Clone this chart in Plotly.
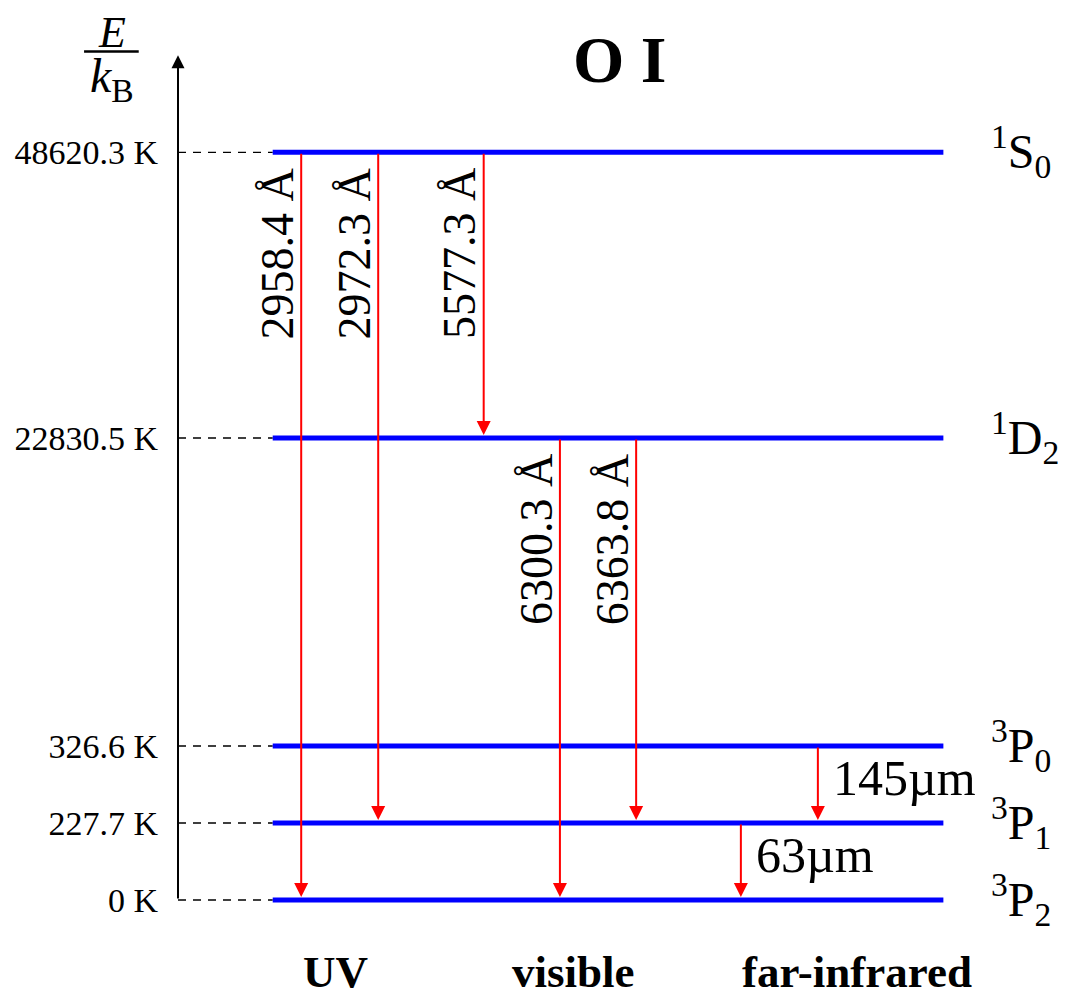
import plotly.graph_objects as go

# ---- data ----
level_names = ["3P2", "3P1", "3P0", "1D2", "1S0"]
level_labels = ["<sup>3</sup>P<sub>2</sub>", "<sup>3</sup>P<sub>1</sub>", "<sup>3</sup>P<sub>0</sub>",
                "<sup>1</sup>D<sub>2</sub>", "<sup>1</sup>S<sub>0</sub>"]
level_energy_labels = ["0 K", "227.7 K", "326.6 K", "22830.5 K", "48620.3 K"]
level_display = [0.0, 1.0, 2.0, 6.0, 9.71]   # schematic (non-linear) heights

trans_upper = ["1S0", "1S0", "1S0", "1D2", "1D2", "3P1", "3P0"]
trans_lower = ["3P2", "3P1", "1D2", "3P2", "3P1", "3P2", "3P1"]
trans_x = [1.6, 2.6, 3.97, 4.96, 5.95, 7.31, 8.31]
trans_labels = ["2958.4 Å", "2972.3 Å", "5577.3 Å", "6300.3 Å", "6363.8 Å", "63µm", "145µm"]

band_labels = ["UV", "visible", "far-infrared"]
band_x = [2.05, 5.13, 8.82]

level_x0, level_x1 = 1.23, 9.94
SERIF = "Liberation Serif"
PX = 77.0  # pixels per unit (both axes)

pos = dict(zip(level_names, level_display))

fig = go.Figure()

# dashed guide lines from axis to levels
for y in level_display:
    fig.add_trace(go.Scatter(x=[0, level_x0], y=[y, y], mode="lines",
                             line=dict(color="black", width=1.3, dash="8px,7px"),
                             hoverinfo="skip", showlegend=False))
# levels
for y in level_display:
    fig.add_trace(go.Scatter(x=[level_x0, level_x1], y=[y, y], mode="lines",
                             line=dict(color="#0000ff", width=5),
                             hoverinfo="skip", showlegend=False))

ann = []
# vertical energy axis with arrow
ann.append(dict(x=0, y=10.97, ax=0, ay=0, xref="x", yref="y", axref="x", ayref="y",
                text="", showarrow=True, arrowhead=2, arrowsize=1.3, arrowwidth=2,
                arrowcolor="black", standoff=0))

# transitions
for u, l, x, t in zip(trans_upper, trans_lower, trans_x, trans_labels):
    yu, yl = pos[u], pos[l]
    ann.append(dict(x=x, y=yl, ax=x, ay=yu, xref="x", yref="y", axref="x", ayref="y",
                    text="", showarrow=True, arrowhead=2, arrowsize=1.4, arrowwidth=2,
                    arrowcolor="#ff0000", standoff=3))
    if "Å" in t:
        ann.append(dict(x=x, y=yu, xref="x", yref="y", text=t, showarrow=False,
                        textangle=-90, xanchor="right", yanchor="top",
                        xshift=4, yshift=-14,
                        font=dict(family=SERIF, size=46, color="black")))
    else:
        ann.append(dict(x=x, y=(yu + yl) / 2, xref="x", yref="y", text=t, showarrow=False,
                        xanchor="left", yanchor="middle", xshift=13, yshift=7,
                        font=dict(family=SERIF, size=50, color="black")))

# level term labels
for y, lab in zip(level_display, level_labels):
    ann.append(dict(x=level_x1, y=y, xref="x", yref="y", text=lab, showarrow=False,
                    xanchor="left", yanchor="middle", xshift=46, yshift=1,
                    font=dict(family=SERIF, size=48, color="black")))

# band labels
for x, lab in zip(band_x, band_labels):
    ann.append(dict(x=x, y=-0.93, xref="x", yref="y", text="<b>" + lab + "</b>",
                    showarrow=False, xanchor="center", yanchor="middle",
                    font=dict(family=SERIF, size=45, color="black")))

# title
ann.append(dict(x=5.74, y=10.91, xref="x", yref="y", text="<b>O I</b>", showarrow=False,
                xanchor="center", yanchor="middle",
                font=dict(family=SERIF, size=66, color="black")))

# axis label E / k_B
ann.append(dict(x=-0.86, y=11.26, xref="x", yref="y", text="<i>E</i>", showarrow=False,
                xanchor="center", yanchor="middle",
                font=dict(family=SERIF, size=44, color="black")))
ann.append(dict(x=-0.86, y=10.66, xref="x", yref="y", text="<i>k</i><sub>B</sub>",
                showarrow=False, xanchor="center", yanchor="middle",
                font=dict(family=SERIF, size=48, color="black")))
fig.add_shape(type="line", x0=-1.22, x1=-0.51, y0=11.02, y1=11.02, xref="x", yref="y",
              line=dict(color="black", width=2.5))

# page body has an 8px margin: figure drawn 8px smaller, offsets compensated
W, H = 1058, 990
AXIS_PX = 170          # horizontal pixel of the energy axis inside the figure
ZERO_PX = 892          # vertical pixel of level 0 inside the figure
T, B = 7, 6

fig.update_layout(
    width=W, height=H,
    margin=dict(l=0, r=0, t=T, b=B),
    plot_bgcolor="white", paper_bgcolor="white",
    annotations=ann,
    xaxis=dict(range=[-AXIS_PX / PX, (W - AXIS_PX) / PX], visible=False, domain=[0, 1]),
    yaxis=dict(range=[-(H - B - ZERO_PX) / PX, (ZERO_PX - T) / PX], showgrid=False,
               zeroline=False, showline=False, anchor="free", position=AXIS_PX / W,
               tickmode="array", tickvals=level_display, ticktext=level_energy_labels,
               ticks="", ticklabelstandoff=20,
               tickfont=dict(family=SERIF, size=34, color="black")),
    showlegend=False,
)

fig.write_html("out.html")
